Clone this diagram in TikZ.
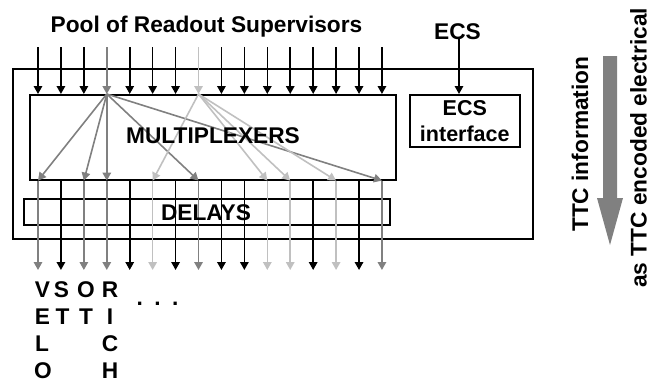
\documentclass[tikz,border=0pt]{standalone}
\usepackage{fontspec}
\setmainfont{Liberation Sans}
\usetikzlibrary{arrows.meta}
\definecolor{midgray}{HTML}{808080}
\definecolor{lightgray2}{HTML}{C0C0C0}
\begin{document}
\begin{tikzpicture}[x=1pt,y=-1pt,
  lbl/.style={font=\fontsize{22.7}{26}\selectfont\bfseries, inner sep=0pt},
  box/.style={draw, line width=1.6pt, inner sep=0pt},
  arr/.style={line width=1.6pt, -{Triangle[length=8pt,width=8.5pt]}},
]
\useasboundingbox (0,0) rectangle (651,383);
% boxes
\node[box, minimum width=520, minimum height=170, anchor=north west] (outer) at (12,68) {};
\node[box, minimum width=366, minimum height=85, anchor=north west] (mux) at (29,94) {};
\node[box, minimum width=366, minimum height=26, anchor=north west] (delays) at (23,198) {};
\node[box, minimum width=110, minimum height=52, anchor=north west, align=center,
      font=\fontsize{21.5}{26}\selectfont\bfseries] (ecsbox) at (409,94) {ECS\\interface};
% column coordinates
\foreach \i in {1,...,16} {
  \coordinate (t\i) at ({38+(\i-1)*22.93},47);
  \coordinate (b\i) at ({38+(\i-1)*22.93},270);
}
% top arrows
\foreach \i/\c in {1/black,2/black,3/black,4/midgray,5/black,6/black,7/black,8/lightgray2,
                   9/black,10/black,11/black,12/black,13/black,14/black,15/black,16/black} {
  \draw[arr, \c] (t\i) -- (t\i |- mux.north);
}
% bottom arrows
\foreach \i/\c in {1/midgray,2/black,3/midgray,4/midgray,5/black,6/lightgray2,7/black,8/midgray,
                   9/black,10/black,11/lightgray2,12/lightgray2,13/black,14/lightgray2,15/black,16/midgray} {
  \draw[arr, \c] (b\i |- mux.south) -- (b\i);
}
% internal multiplexer arrows
\foreach \j in {1,3,4,8,16} {
  \draw[arr, midgray] (t4 |- mux.north) -- (b\j |- mux.south);
}
\foreach \j in {6,11,12,14} {
  \draw[arr, lightgray2] (t8 |- mux.north) -- (b\j |- mux.south);
}
% texts
\node[lbl, anchor=base] (pool) at (206.5,32) {Pool of Readout Supervisors};
\node[lbl, anchor=base] (ecs) at (457.5,39) {ECS};
\node[lbl, anchor=base] (muxlbl) at (213,143) {MULTIPLEXERS};
\node[lbl, anchor=base] (dellbl) at (206,220) {DELAYS};
\draw[arr] ([xshift=1.5pt]ecs.south) -- ([xshift=1.5pt]ecs.south |- ecsbox.north);
% output labels
\node[lbl, anchor=base] (v1) at (42.5,297) {V};
\node[lbl, anchor=base] (v2) at (42.5,324) {E};
\node[lbl, anchor=base] (v3) at (42,351) {L};
\node[lbl, anchor=base] (v4) at (43,378) {O};
\node[lbl, anchor=base] (s1) at (61.5,297) {S};
\node[lbl, anchor=base] (s2) at (62.5,324) {T};
\node[lbl, anchor=base] (o1) at (86,297) {O};
\node[lbl, anchor=base] (o2) at (86,324) {T};
\node[lbl, anchor=base] (r1) at (110,297) {R};
\node[lbl, anchor=base] (r2) at (110,324) {I};
\node[lbl, anchor=base] (r3) at (110,351) {C};
\node[lbl, anchor=base] (r4) at (110,378) {H};
\node[lbl, anchor=base] (dots) at (157.5,305) {.\hspace{11.4pt}.\hspace{11.4pt}.};
% side arrow and texts
\fill[midgray] (603,56) -- (617,56) -- (617,198) -- (623,198) -- (610,245) -- (597,198) -- (603,198) -- cycle;
\node[lbl, rotate=90, anchor=base west] (ttc1) at (588,232) {TTC information};
\node[lbl, rotate=90, anchor=base west] (ttc2) at (646.5,288) {as TTC encoded electrical};
\end{tikzpicture}
\end{document}
